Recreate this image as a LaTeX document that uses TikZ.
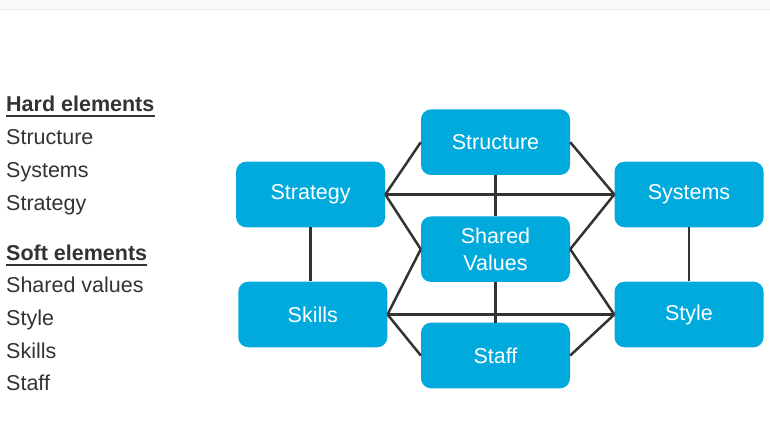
\documentclass[tikz,border=0pt]{standalone}
\usepackage{fontspec}
\setmainfont{Liberation Sans}
\definecolor{boxblue}{RGB}{0,170,221}
\definecolor{txtgray}{RGB}{51,51,51}
\definecolor{linegray}{RGB}{51,51,51}
\definecolor{bandgray}{RGB}{249,249,249}
\definecolor{bandline}{RGB}{238,238,238}
\tikzset{
  sbox/.style={fill=boxblue, text=white, rounded corners=10pt, minimum width=149pt,
    minimum height=65.6pt, inner sep=0pt, align=center,
    font=\fontsize{21.5}{26.7}\selectfont},
  ltext/.style={anchor=base west, inner sep=0pt, text=txtgray,
    font=\fontsize{21.5}{26}\selectfont},
  conn/.style={draw=linegray, line width=2.5pt},
  uline/.style={draw=txtgray, line width=2pt}
}
\begin{document}
\begin{tikzpicture}[x=1pt,y=-1pt]
\useasboundingbox (0,0) rectangle (770,435);
\fill[white] (0,0) rectangle (770,435);
\fill[bandgray] (0,0) rectangle (770,9);
\fill[bandline] (0,9) rectangle (770,10.5);

% left list
\node[ltext, font=\fontsize{21.5}{26}\selectfont\bfseries] (hard) at (6,111.5) {Hard elements};
\node[ltext] (l1) at (6,144.5) {Structure};
\node[ltext] (l2) at (6,177.5) {Systems};
\node[ltext] (l3) at (6,210.5) {Strategy};
\node[ltext, font=\fontsize{21.5}{26}\selectfont\bfseries] (soft) at (6,260.5) {Soft elements};
\node[ltext] (l4) at (6,293) {Shared values};
\node[ltext] (l5) at (6,325.5) {Style};
\node[ltext] (l6) at (6,358.5) {Skills};
\node[ltext] (l7) at (6,390.5) {Staff};
\draw[uline] ([yshift=-4.2pt]hard.base west) -- ([yshift=-4.2pt]hard.base east);
\draw[uline] ([yshift=-4.5pt]soft.base west) -- ([yshift=-4.5pt]soft.base east);

% boxes
\node[sbox] (structure) at (495.5,142.2) {Structure};
\node[sbox] (strategy) at (310.6,194.5) {Strategy};
\node[sbox] (systems) at (689,194.5) {Systems};
\node[sbox] (shared) at (495.5,249.2) {Shared\\Values};
\node[sbox] (skills) at (312.8,314.5) {Skills};
\node[sbox] (style) at (689,314.5) {Style};
\node[sbox] (staff) at (495.5,355.5) {Staff};

% connectors
\draw[conn] (structure.west) -- (strategy.east);
\draw[conn] (structure.east) -- (systems.west);
\draw[conn] (strategy.east) -- (systems.west);
\draw[conn] (structure.south) -- (shared.north);
\draw[conn] (strategy.east) -- (shared.west);
\draw[conn] (systems.west) -- (shared.east);
\draw[conn] (shared.west) -- (skills.east);
\draw[conn] (shared.east) -- (style.west);
\draw[conn] (skills.east) -- (style.west);
\draw[conn] (shared.south) -- (staff.north);
\draw[conn] (skills.east) -- (staff.west);
\draw[conn] (style.west) -- (staff.east);
\draw[conn] (strategy.south) -- (strategy.south |- skills.north);
\draw[conn] (systems.south) -- (style.north);
\end{tikzpicture}
\end{document}
